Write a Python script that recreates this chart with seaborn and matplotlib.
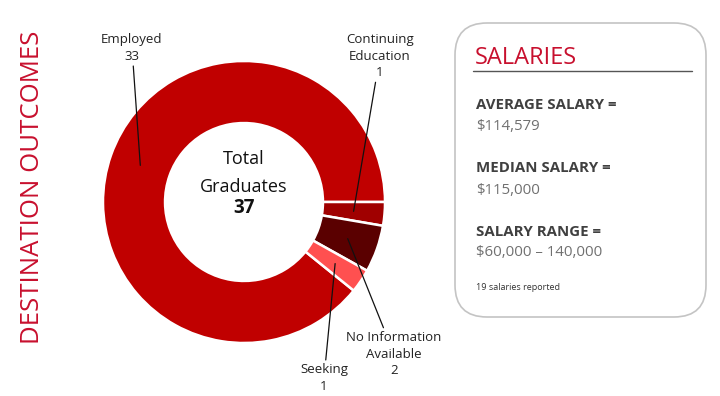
import matplotlib
matplotlib.use("Agg")
import matplotlib.pyplot as plt
import seaborn as sns
import numpy as np
from matplotlib.patches import FancyBboxPatch
from matplotlib.transforms import IdentityTransform

# ---- data ----
categories = ["Employed", "Continuing\nEducation", "No Information\nAvailable", "Seeking"]
counts = [33, 1, 2, 1]
colors = ["#C00000", "#A00000", "#5A0000", "#FF5050"]
total_label = ["Total", "Graduates"]
salary_heads = ["AVERAGE SALARY =", "MEDIAN SALARY =", "SALARY RANGE ="]
salary_vals = ["$114,579", "$115,000", "$60,000 \u2013 140,000"]
salary_note = "19 salaries reported"

sns.set_theme(style="white")
plt.rcParams["font.family"] = ["Open Sans", "DejaVu Sans"]

W, H = 720, 396
fig = plt.figure(figsize=(7.2, 3.96), dpi=100)

def fp(x, y):
    return (x / W, 1 - y / H)

# donut axes: center (244, 202), radius 141 px
cx, cy, R = 244, 202, 141
ax = fig.add_axes([(cx - R) / W, (H - cy - R) / H, 2 * R / W, 2 * R / H])
total = sum(counts)
start = 360 * counts[0] / total
wedges, _ = ax.pie(counts, colors=colors, startangle=start, counterclock=False,
                   radius=1, wedgeprops=dict(width=0.44, edgecolor="white", linewidth=1.8))
ax.set_xlim(-1, 1)
ax.set_ylim(-1, 1)
ax.set_aspect("equal")
ax.axis("off")

# labels with leader lines
label_pos = [(132, 48), (380, 56), (394, 354), (324, 378)]
for w, cat, n, (lx, ly) in zip(wedges, categories, counts, label_pos):
    mid = np.deg2rad((w.theta1 + w.theta2) / 2)
    r = 0.78
    ax.annotate(f"{cat}\n{n}", xy=(r * np.cos(mid), r * np.sin(mid)), xycoords="data",
                xytext=fp(lx, ly), textcoords="figure fraction",
                ha="center", va="center", fontsize=9.5, color="#222222", linespacing=1.35,
                arrowprops=dict(arrowstyle="-", color="#111111", lw=0.9, shrinkA=0, shrinkB=0))

# center text
fig.text(*fp(cx, 159), total_label[0], ha="center", va="center", fontsize=13, color="#111111")
fig.text(*fp(cx, 187), total_label[1], ha="center", va="center", fontsize=13, color="#111111")
fig.text(*fp(cx, 208), str(total), ha="center", va="center", fontsize=13.5, fontweight="bold", color="#111111")

# left vertical title
fig.text(*fp(33, 187), "DESTINATION OUTCOMES", rotation=90, ha="center", va="center",
         fontsize=18.5, color="#C8102E")

# salary box
box = FancyBboxPatch((455, H - 317), 251, 294, boxstyle="round,pad=0,rounding_size=32",
                     transform=IdentityTransform(), facecolor="white", edgecolor="#C4C4C4", lw=1.2)
fig.patches.append(box)
fig.text(*fp(475, 58), "SALARIES", ha="left", va="center", fontsize=17, color="#C8102E")
fig.add_artist(plt.Line2D([473 / W, 692 / W], [1 - 71 / H, 1 - 71 / H], transform=fig.transFigure,
                          color="#555555", lw=1.0))
head_y = [105, 168, 232]
val_y = [127, 190, 253]
for h, v, hy, vy in zip(salary_heads, salary_vals, head_y, val_y):
    fig.text(*fp(476, hy), h, ha="left", va="center", fontsize=10.8, fontweight="bold", color="#404040")
    fig.text(*fp(476, vy), v, ha="left", va="center", fontsize=10.8, color="#707070")
fig.text(*fp(476, 287), salary_note, ha="left", va="center", fontsize=6.5, color="#333333")

fig.savefig("out.png", dpi=100, facecolor="white")
